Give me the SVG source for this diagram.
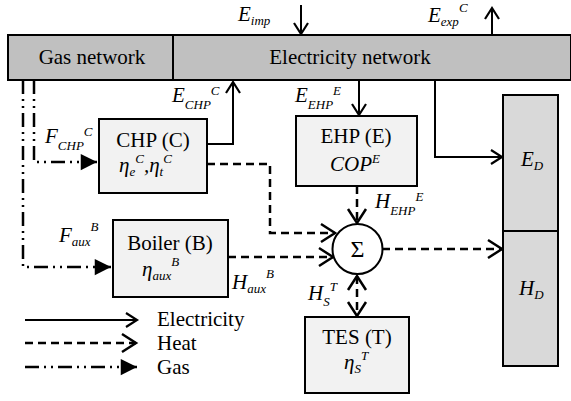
<svg xmlns="http://www.w3.org/2000/svg" width="571" height="401" viewBox="0 0 571 401">
<style>
.lbl{font-size:21px}
.math{font-style:italic;font-size:21px}
.sm{font-size:13px}
.box{stroke:#000;stroke-width:2}
.elec{fill:none;stroke:#000;stroke-width:2}
.heat{fill:none;stroke:#000;stroke-width:2.5;stroke-dasharray:8 5}
.gas{fill:none;stroke:#000;stroke-width:2.5;stroke-dasharray:14 5 2 5 2 5}
</style>
<defs>
<marker id="ae" markerUnits="userSpaceOnUse" orient="auto" markerWidth="20" markerHeight="20" refX="0" refY="0" viewBox="-14 -10 16 20" overflow="visible">
<path d="M-11,-7 L0,0 L-11,7" fill="none" stroke="#000" stroke-width="2.2"/>
</marker>
<marker id="ah" markerUnits="userSpaceOnUse" orient="auto-start-reverse" markerWidth="24" markerHeight="24" refX="0" refY="0" viewBox="-16 -12 18 24" overflow="visible">
<path d="M-14,-9 L0,0 L-14,9" fill="none" stroke="#000" stroke-width="2.5"/>
</marker>
<marker id="ag" markerUnits="userSpaceOnUse" orient="auto" markerWidth="20" markerHeight="20" refX="0" refY="0" viewBox="-14 -8 16 16" overflow="visible">
<path d="M-13,-6.5 L0,0 L-13,6.5 Z" fill="#000"/>
</marker>
</defs>
<rect width="571" height="401" fill="#fff"/>

<g id="connectors">
<polyline class="gas" points="23,80 23,267 111,267" marker-end="url(#ag)"/>
<polyline class="gas" points="34,80 34,162 97,162" marker-end="url(#ag)"/>
<polyline class="elec" points="207,144 233,144 233,82" marker-end="url(#ae)"/>
<line class="elec" x1="301" y1="5" x2="301" y2="34" marker-end="url(#ae)"/>
<line class="elec" x1="492" y1="35" x2="492" y2="8" marker-end="url(#ae)"/>
<line class="elec" x1="359" y1="80" x2="359" y2="115" marker-end="url(#ae)"/>
<polyline class="elec" points="435,80 435,157 502,157" marker-end="url(#ae)"/>
<polyline class="heat" points="207,164 270,164 270,233 335,233" marker-end="url(#ah)"/>
<line class="heat" x1="228" y1="257" x2="333" y2="257" marker-end="url(#ah)"/>
<line class="heat" x1="357" y1="186" x2="357" y2="223" marker-end="url(#ah)"/>
<line class="heat" x1="357" y1="276" x2="357" y2="316" marker-start="url(#ah)" marker-end="url(#ah)"/>
<line class="heat" x1="382" y1="249" x2="502" y2="249" marker-end="url(#ah)"/>
</g>

<g id="gas-network">
<rect class="box" x="8" y="35" width="165" height="45" fill="#c0c0c0"/>
<text font-family="Liberation Serif" class="lbl" x="92" y="64" text-anchor="middle">Gas network</text>
</g>
<g id="electricity-network">
<rect class="box" x="173" y="35" width="398" height="45" fill="#c0c0c0"/>
<text font-family="Liberation Serif" class="lbl" x="350" y="64" text-anchor="middle">Electricity network</text>
</g>

<g id="chp">
<rect class="box" x="99" y="119" width="108" height="74" fill="#f2f2f2"/>
<text font-family="Liberation Serif" class="lbl" x="153" y="147" text-anchor="middle">CHP (C)</text>
<text font-family="Liberation Serif" class="math" x="119" y="172">η<tspan class="sm" dy="4">e</tspan><tspan class="sm" dy="-13">C</tspan><tspan dy="9">,η</tspan><tspan class="sm" dy="4">t</tspan><tspan class="sm" dy="-13">C</tspan></text>
</g>

<g id="boiler">
<rect class="box" x="113" y="220" width="115" height="77" fill="#f2f2f2"/>
<text font-family="Liberation Serif" class="lbl" x="170" y="250" text-anchor="middle">Boiler (B)</text>
<text font-family="Liberation Serif" class="math" x="142" y="276">η<tspan class="sm" dy="4">aux</tspan><tspan class="sm" dy="-14">B</tspan></text>
</g>

<g id="ehp">
<rect class="box" x="296" y="116" width="121" height="70" fill="#f2f2f2"/>
<text font-family="Liberation Serif" class="lbl" x="356" y="143" text-anchor="middle">EHP (E)</text>
<text font-family="Liberation Serif" class="math" x="330" y="171">COP<tspan class="sm" dy="-8">E</tspan></text>
</g>

<g id="sum">
<circle cx="357.5" cy="249" r="25" fill="#fff" stroke="#000" stroke-width="2"/>
<text font-family="Liberation Serif" x="357.5" y="257" text-anchor="middle" font-size="24">Σ</text>
</g>

<g id="tes">
<rect class="box" x="305" y="317" width="104" height="76" fill="#f2f2f2"/>
<text font-family="Liberation Serif" class="lbl" x="357" y="344" text-anchor="middle">TES (T)</text>
<text font-family="Liberation Serif" class="math" x="344" y="369">η<tspan class="sm" dy="4">S</tspan><tspan class="sm" dy="-13">T</tspan></text>
</g>

<g id="demand">
<rect class="box" x="503" y="95" width="55" height="136" fill="#d9d9d9"/>
<rect class="box" x="503" y="231" width="55" height="135" fill="#d9d9d9"/>
<text font-family="Liberation Serif" class="math" x="521" y="166">E<tspan class="sm" dy="4">D</tspan></text>
<text font-family="Liberation Serif" class="math" x="519" y="295">H<tspan class="sm" dy="4">D</tspan></text>
</g>

<g id="labels">
<text font-family="Liberation Serif" class="math" x="238" y="21">E<tspan class="sm" dy="4">imp</tspan></text>
<text font-family="Liberation Serif" class="math" x="428" y="22">E<tspan class="sm" dy="4">exp</tspan><tspan class="sm" dy="-14">C</tspan></text>
<text font-family="Liberation Serif" class="math" x="172" y="102">E<tspan class="sm" dy="7">CHP</tspan><tspan class="sm" dy="-14">C</tspan></text>
<text font-family="Liberation Serif" class="math" x="295" y="102">E<tspan class="sm" dy="7">EHP</tspan><tspan class="sm" dy="-14">E</tspan></text>
<text font-family="Liberation Serif" class="math" x="45" y="143">F<tspan class="sm" dy="7">CHP</tspan><tspan class="sm" dy="-14">C</tspan></text>
<text font-family="Liberation Serif" class="math" x="59" y="242">F<tspan class="sm" dy="4">aux</tspan><tspan class="sm" dy="-15">B</tspan></text>
<text font-family="Liberation Serif" class="math" x="232" y="289">H<tspan class="sm" dy="4">aux</tspan><tspan class="sm" dy="-15">B</tspan></text>
<text font-family="Liberation Serif" class="math" x="375" y="208">H<tspan class="sm" dy="7">EHP</tspan><tspan class="sm" dy="-14">E</tspan></text>
<text font-family="Liberation Serif" class="math" x="308" y="300">H<tspan class="sm" dy="6">S</tspan><tspan class="sm" dy="-15">T</tspan></text>
</g>

<g id="legend">
<line class="elec" x1="25" y1="320" x2="137" y2="320" marker-end="url(#ae)"/>
<line class="heat" x1="25" y1="343" x2="136" y2="343" marker-end="url(#ah)"/>
<line class="gas" x1="25" y1="367" x2="137" y2="367" marker-end="url(#ag)"/>
<text font-family="Liberation Serif" class="lbl" x="157" y="326">Electricity</text>
<text font-family="Liberation Serif" class="lbl" x="157" y="350">Heat</text>
<text font-family="Liberation Serif" class="lbl" x="157" y="374">Gas</text>
</g>
</svg>
